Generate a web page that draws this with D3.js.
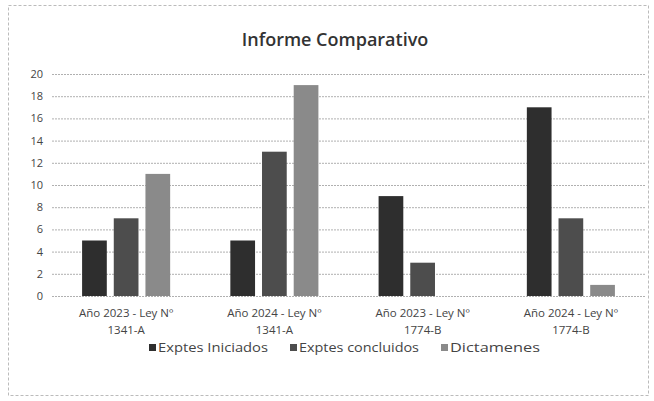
<!DOCTYPE html>
<html><head><meta charset="utf-8">
<script src="https://cdn.jsdelivr.net/npm/d3@7"></script>
<style>body{margin:0;background:#fff}</style>
</head><body><svg id="c" width="654" height="401"></svg>
<script>
const categories = [["Año 2023 - Ley Nº","1341-A"],["Año 2024 - Ley Nº","1341-A"],["Año 2023 - Ley Nº","1774-B"],["Año 2024 - Ley Nº","1774-B"]];
const seriesNames = ["Exptes Iniciados","Exptes concluidos","Dictamenes"];
const iniciados = [5,5,9,17];
const concluidos = [7,13,3,7];
const dictamenes = [11,19,0,1];
const yTicks = [0,2,4,6,8,10,12,14,16,18,20];
const colors = ["#2e2e2e","#4d4d4d","#8a8a8a"];
const series = [iniciados, concluidos, dictamenes];

const svg = d3.select("#c");
const font = "'Open Sans', 'Liberation Sans', sans-serif";
svg.append("rect").attr("x",8.5).attr("y",5.5).attr("width",640).attr("height",390)
  .attr("fill","#fff").attr("stroke","#bbb").attr("stroke-dasharray","3,2");

const m = {l:52, r:645, t:74, b:296};
const x0 = d3.scaleBand().domain(d3.range(categories.length)).range([m.l,m.r]).paddingInner(0).paddingOuter(0);
const x1 = d3.scaleBand().domain(d3.range(series.length)).range([0,x0.bandwidth()]).paddingInner(0.22).paddingOuter(0.95);
const y = d3.scaleLinear().domain([0,20]).range([m.b,m.t]);

svg.append("text").attr("x",335).attr("y",46).attr("text-anchor","middle")
  .attr("font-family",font).attr("font-size",18).attr("font-weight",600).attr("fill","#333")
  .text("Informe Comparativo");

const ya = svg.append("g").attr("transform",`translate(${m.l},0)`)
  .call(d3.axisLeft(y).tickValues(yTicks).tickSize(-(m.r-m.l)).tickPadding(9));
ya.select(".domain").remove();
ya.selectAll(".tick line").attr("stroke","#b0b0b0").attr("stroke-dasharray","2,1");
ya.selectAll(".tick text").attr("font-family",font).attr("font-size",11).attr("fill","#444");

const g = svg.append("g");
series.forEach((s,si)=>{
  g.selectAll(null).data(s).enter().append("rect")
   .attr("x",(d,i)=>x0(i)+x1(si)).attr("width",x1.bandwidth())
   .attr("y",d=>y(d)).attr("height",d=>y(0)-y(d)).attr("fill",colors[si]);
});

const xl = svg.append("g").attr("font-family",font).attr("font-size",11.5).attr("fill","#444");
categories.forEach((c,i)=>{
  const cx = x0(i)+x0.bandwidth()/2;
  const t = xl.append("text").attr("x",cx).attr("y",317).attr("text-anchor","middle").attr("fill","#444");
  t.append("tspan").attr("x",cx).text(c[0]);
  t.append("tspan").attr("x",cx).attr("dy",17).text(c[1]);
});

const legX = [149,290,441];
const legW = [110,120,90];
const lg = svg.append("g").attr("font-family",font).attr("font-size",12);
seriesNames.forEach((n,i)=>{
  lg.append("rect").attr("x",legX[i]).attr("y",344).attr("width",7).attr("height",7).attr("fill",colors[i]);
  lg.append("text").attr("x",legX[i]+9).attr("y",352).attr("fill","#444")
    .attr("textLength",legW[i]).attr("lengthAdjust","spacingAndGlyphs").text(n);
});
</script></body></html>
